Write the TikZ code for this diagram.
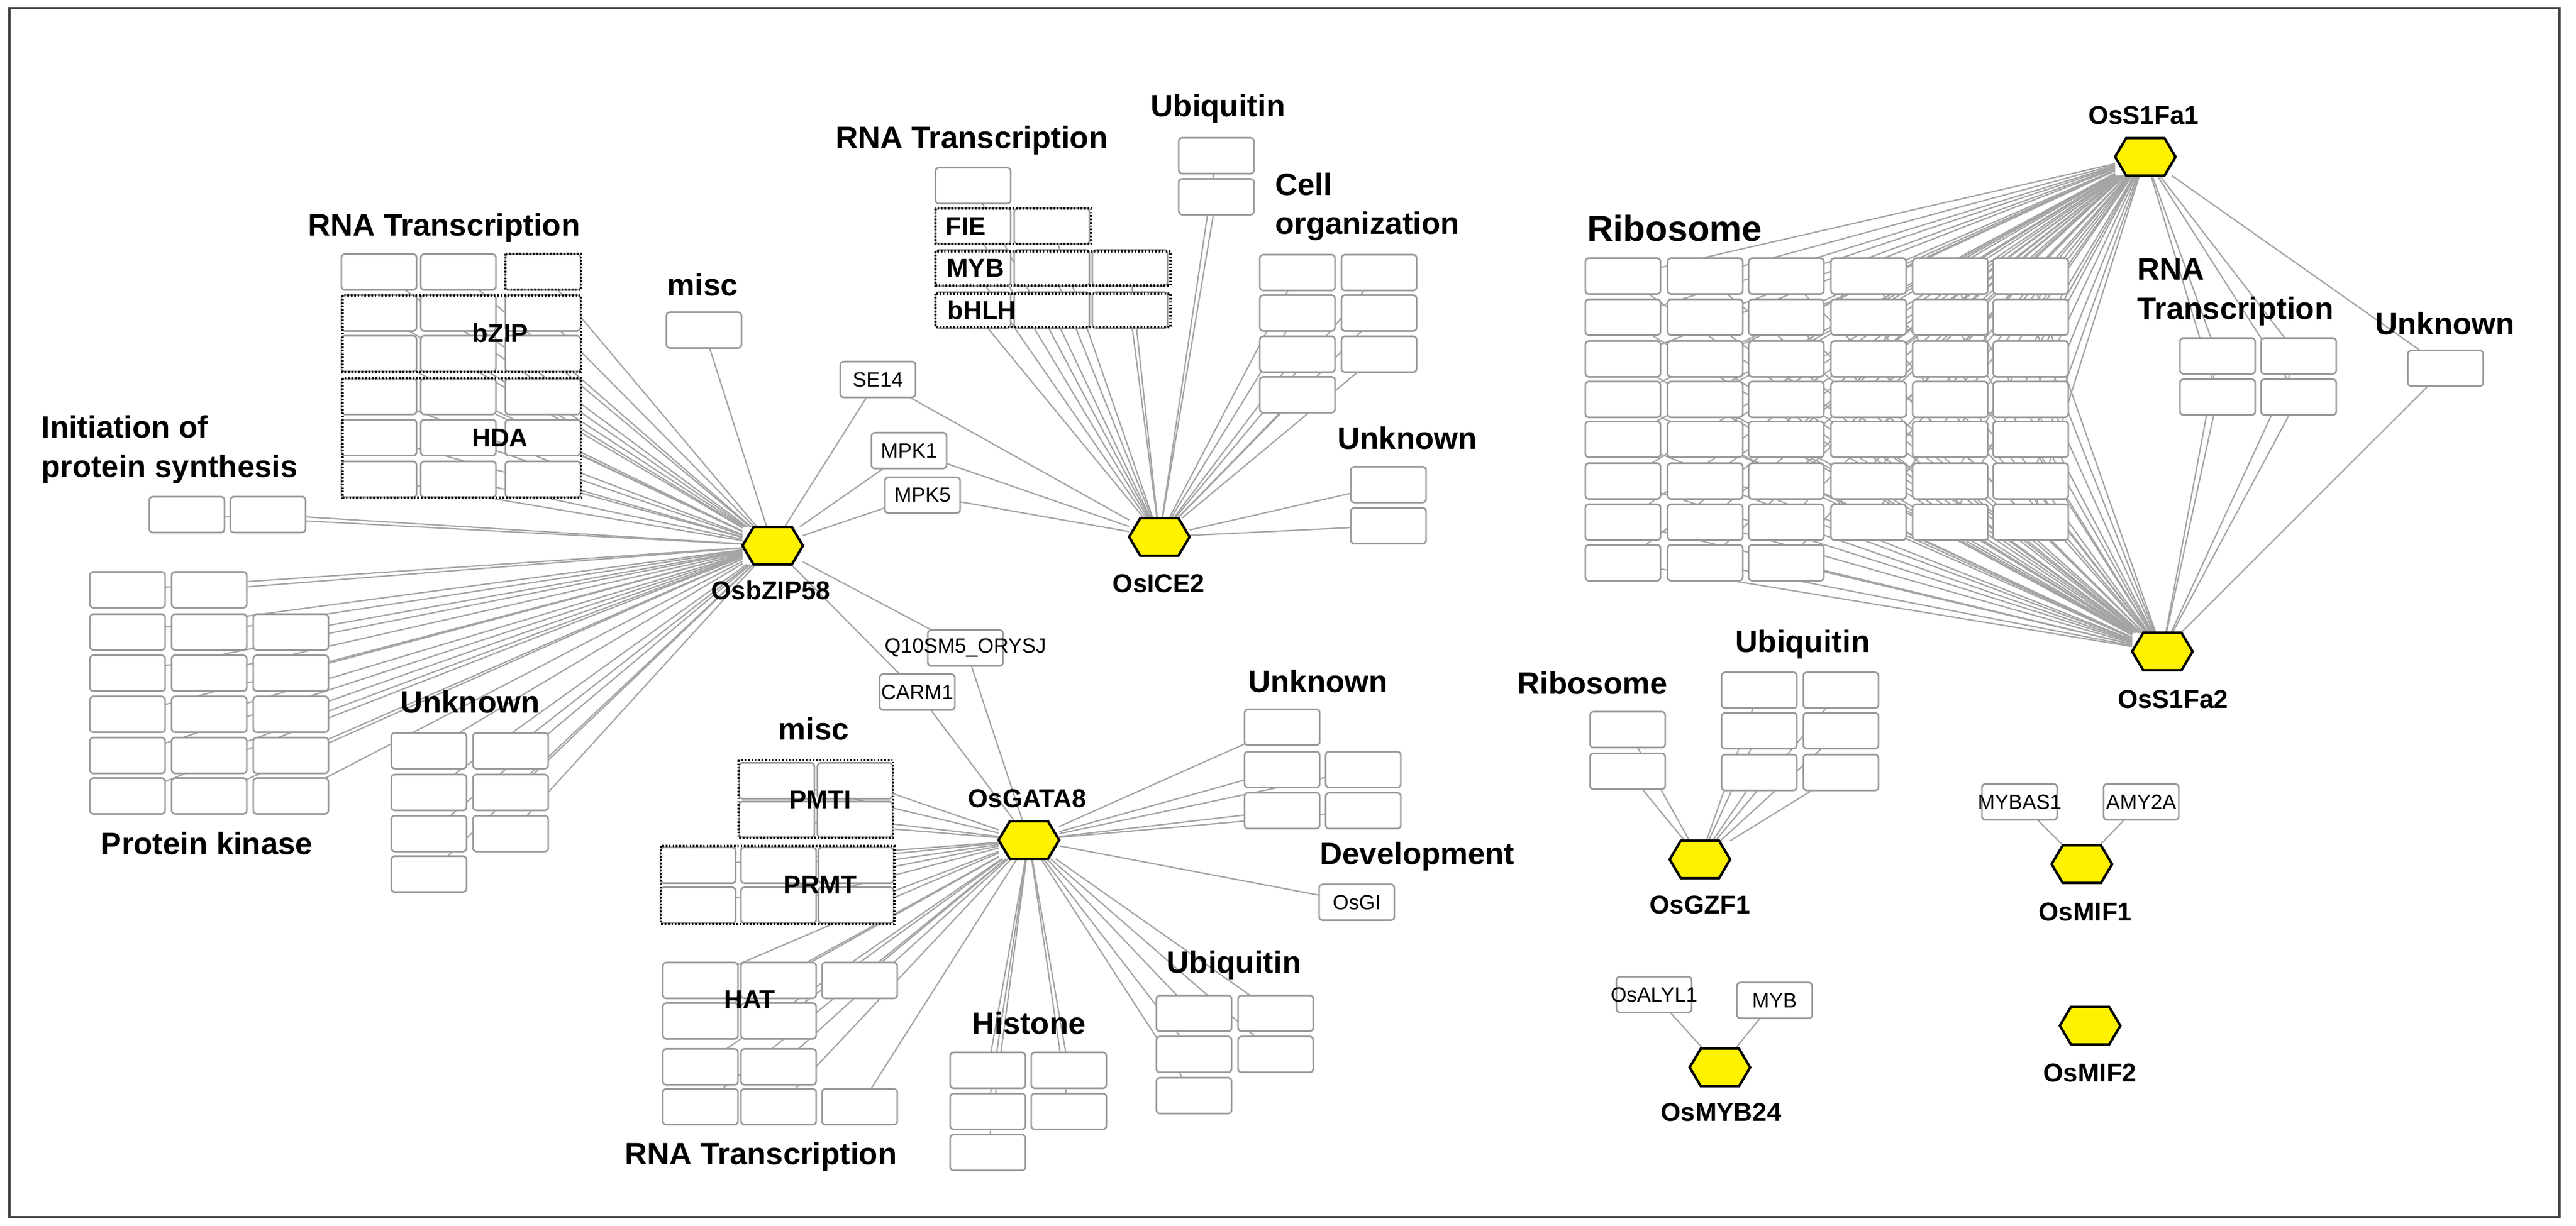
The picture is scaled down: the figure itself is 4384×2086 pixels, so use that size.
\documentclass[tikz,border=0pt]{standalone}
\usepackage{fontspec}
\setmainfont{Liberation Sans}
\usetikzlibrary{backgrounds,calc}
\definecolor{edg}{HTML}{A4A4A4}
\definecolor{bxd}{HTML}{9A9A9A}
\newcommand\bigf{\fontsize{30}{38}\selectfont\bfseries}
\newcommand\ribf{\fontsize{35}{40}\selectfont\bfseries}
\newcommand\hubf{\fontsize{25}{30}\selectfont\bfseries}
\newcommand\smlf{\fontsize{20}{24}\selectfont}
\tikzset{
  bx/.style={draw=bxd,line width=1.6pt,fill=white,rounded corners=0.12cm,minimum width=2.56cm,minimum height=1.22cm,inner sep=0pt,outer sep=0pt},
  ed/.style={draw=edg,line width=1.3pt},
  hub/.style={minimum width=2.06cm,minimum height=1.28cm,inner sep=0pt,outer sep=0pt},
  hexs/.style={fill=yellow,draw=black,line width=2.4pt,line join=miter},
  grp/.style={draw=black,line width=2.6pt,dash pattern=on 1.5pt off 1.8pt},
  lab/.style={font=\bigf,inner sep=0pt},
  hl/.style={font=\hubf,inner sep=0pt},
  every label/.style={font=\smlf,inner sep=0pt}
}
\newcommand\hexat[3]{\node[hub] (#1) at (#2) {};
  \filldraw[hexs] (#1.west) -- ([xshift=0.38cm]#1.north west) -- ([xshift=-0.38cm]#1.north east) -- (#1.east) -- ([xshift=-0.38cm]#1.south east) -- ([xshift=0.38cm]#1.south west) -- cycle;
  \node[hl] at (#3) {#1};}
\newcommand\bxs[3]{\foreach \x/\y [count=\i] in {#3} {\node[bx] (#2\i) at (\x,\y) {};
  \begin{scope}[on background layer]\draw[ed] (#2\i) -- (#1);\end{scope}}}
\begin{document}
\begin{tikzpicture}[x=0.02cm,y=-0.02cm]
\useasboundingbox (0,0) rectangle (4384,2086);
\draw[line width=2.2pt,black!75] (16,14) rectangle (4356,2072);
% hubs
\hexat{OsbZIP58}{1315,929}{1312,1005}
\hexat{OsICE2}{1973,914}{1972,993}
\hexat{OsGATA8}{1751,1430}{1748,1359}
\hexat{OsS1Fa1}{3651,267}{3648,196}
\hexat{OsS1Fa2}{3680,1109}{3698,1190}
\hexat{OsGZF1}{2893,1463}{2893,1540}
\hexat{OsMIF1}{3543,1471}{3549,1552}
\hexat{OsMYB24}{2927,1817}{2929,1893}
\hexat{OsMIF2}{3557,1746}{3557,1826}
% OsbZIP58 cluster
\bxs{OsbZIP58}{ar}{645/463,780/463,924/463,645/533,780/533,924/533,645/602,780/602,924/602,645/675,780/675,924/675,645/745,780/745,924/745,645/816,780/816,924/816}
\bxs{OsbZIP58}{mi}{1198/562}
\bxs{OsbZIP58}{in}{318/876,456/876}
\bxs{OsbZIP58}{pk}{217/1004,356/1004,217/1076,356/1076,495/1076,217/1146,356/1146,495/1146,217/1216,356/1216,495/1216,217/1286,356/1286,495/1286,217/1355,356/1355,495/1355}
\bxs{OsbZIP58}{ul}{730/1278,869/1278,730/1349,869/1349,730/1419,869/1419,730/1488}
% shared small boxes
\foreach \n/\t/\p/\h in {se/SE14/{1494,646}/OsICE2,m1/MPK1/{1547,767}/OsICE2,m5/MPK5/{1570,843}/OsICE2,q1/Q10SM5\_ORYSJ/{1643,1103}/OsGATA8,ca/CARM1/{1561,1178}/OsGATA8}{
  \node[bx,label={center:\t}] (\n) at (\p) {};
  \begin{scope}[on background layer]\draw[ed] (\n) -- (OsbZIP58); \draw[ed] (\n) -- (\h);\end{scope}}
% OsICE2 cluster
\bxs{OsICE2}{rt}{1656/316,1656/385,1790/385,1656/456,1790/456,1923/456,1656/528,1790/528,1923/528}
\bxs{OsICE2}{ub}{2070/265,2070/335}
\bxs{OsICE2}{co}{2208/464,2347/464,2208/533,2347/533,2208/603,2347/603,2208/672}
\bxs{OsICE2}{uk}{2363/825,2363/895}
% OsGATA8 cluster
\bxs{OsGATA8}{pm}{1322/1329,1455/1329,1322/1395,1455/1395}
\bxs{OsGATA8}{pr}{1188/1473,1325/1473,1457/1473,1188/1541,1325/1541,1457/1541}
\bxs{OsGATA8}{ha}{1192/1669,1325/1669,1463/1669,1192/1738,1325/1738,1192/1816,1325/1816,1192/1884,1325/1884,1463/1884}
\bxs{OsGATA8}{hi}{1681/1822,1819/1822,1681/1892,1819/1892,1681/1962}
\bxs{OsGATA8}{ug}{2032/1725,2171/1725,2032/1795,2171/1795,2032/1865}
\bxs{OsGATA8}{un}{2182/1238,2182/1310,2320/1310,2182/1380,2320/1380}
\node[bx,label={center:OsGI}] (osgi) at (2309,1536) {};
\begin{scope}[on background layer]\draw[ed] (osgi) -- (OsGATA8);\end{scope}
% OsS1Fa cluster
\foreach \y [count=\r] in {470,540,611,680,748,819,889}{
  \foreach \x [count=\c] in {2762,2902,3040,3180,3319,3456}{
    \node[bx] (rb\r-\c) at (\x,\y) {};
    \begin{scope}[on background layer]\draw[ed] (rb\r-\c) -- (OsS1Fa1); \draw[ed] (rb\r-\c) -- (OsS1Fa2);\end{scope}}}
\foreach \x [count=\c] in {2762,2902,3040}{
    \node[bx] (rb8-\c) at (\x,958) {};
    \begin{scope}[on background layer]\draw[ed] (rb8-\c) -- (OsS1Fa1); \draw[ed] (rb8-\c) -- (OsS1Fa2);\end{scope}}
\foreach \x/\y [count=\i] in {3774/606,3912/606,3774/676,3912/676,4162/627}{
    \node[bx] (sr\i) at (\x,\y) {};
    \begin{scope}[on background layer]\draw[ed] (sr\i) -- (OsS1Fa1); \draw[ed] (sr\i) -- (OsS1Fa2);\end{scope}}
% OsGZF1
\bxs{OsGZF1}{gr}{2770/1242,2770/1313}
\bxs{OsGZF1}{gu}{2994/1175,3133/1175,2994/1244,3133/1244,2994/1315,3133/1315}
% small hubs
\foreach \n/\t/\p/\h in {mb/MYBAS1/{3437,1365}/OsMIF1,am/AMY2A/{3644,1365}/OsMIF1,al/OsALYL1/{2815,1693}/OsMYB24,my/MYB/{3020,1703}/OsMYB24}{
  \node[bx,label={center:\t}] (\n) at (\p) {};
  \begin{scope}[on background layer]\draw[ed] (\n) -- (\h);\end{scope}}
% dotted groups
\draw[grp] (860,432) rectangle (989,493);
\draw[grp] (583,503) rectangle (989,633);
\draw[grp] (583,644) rectangle (989,847);
\draw[grp] (1592,355) rectangle (1857,415);
\draw[grp] (1592,428) rectangle (1992,486);
\draw[grp] (1592,500) rectangle (1992,557);
\draw[grp] (1257,1294) rectangle (1520,1426);
\draw[grp] (1125,1440) rectangle (1522,1573);
% inner labels
\foreach \t/\p in {bZIP/{851,567},HDA/{851,745},FIE/{1644,385},MYB/{1660,456},bHLH/{1671,528},PMTI/{1396,1361},PRMT/{1396,1506},HAT/{1276,1701}}
  \node[hl] at (\p) {\t};
% category labels
\foreach \t/\p in {RNA Transcription/{756,388},misc/{1196,485},Protein kinase/{352,1436},Unknown/{800,1195},RNA Transcription/{1654,239},Ubiquitin/{2073,185},Unknown/{2395,746},misc/{1385,1241},Unknown/{2243,1160},Development/{2412,1458},Ubiquitin/{2100,1643},Histone/{1751,1742},RNA Transcription/{1295,1969},Unknown/{4161,551},Ribosome/{2710,1163},Ubiquitin/{3068,1097}}
  \node[lab] at (\p) {\t};
\node[lab,anchor=west,align=left] at (70,765) {Initiation of\\protein synthesis};
\node[lab,anchor=west,align=left] at (2170,352) {Cell\\organization};
\node[lab,anchor=west,align=left] at (3637,497) {RNA\\Transcription};
\node[font=\ribf,inner sep=0pt] at (2850,389) {Ribosome};
\end{tikzpicture}
\end{document}
